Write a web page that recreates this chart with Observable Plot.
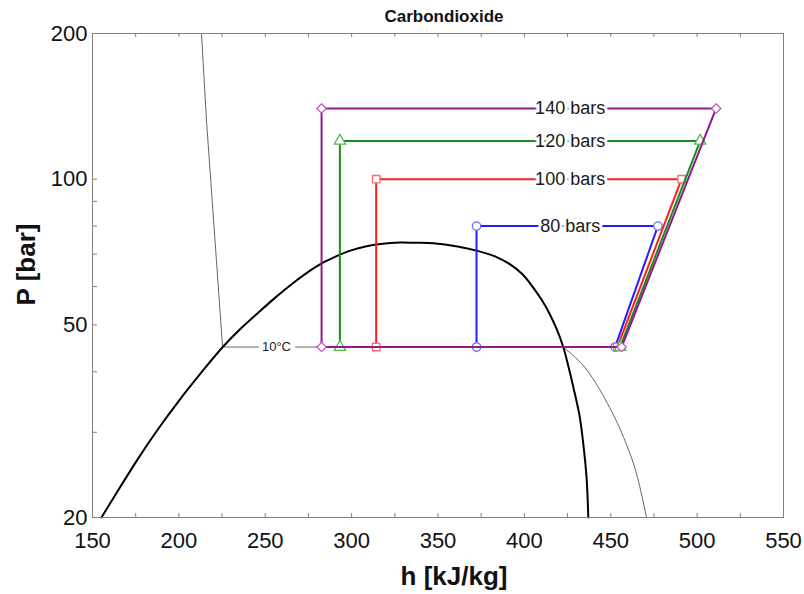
<!DOCTYPE html>
<html><head><meta charset="utf-8">
<script src="https://cdn.jsdelivr.net/npm/d3@7"></script>
<script src="https://cdn.jsdelivr.net/npm/@observablehq/plot@0.6"></script>
<style>body{margin:0;background:#fff} svg{display:block}</style>
</head><body><div id="chart"></div>
<script>
// Saturation dome (h in kJ/kg, P in bar)
const domeH = [155.2, 165.3, 176.5, 188.1, 200.0, 212.6, 225.4, 235.7, 246.7, 256.5, 265.8, 274.5, 282.6, 290.7, 299.3, 308.0, 316.7, 328.3, 337.0, 347.4, 361.3, 372.3, 383.3, 392.0, 398.9, 404.7, 409.9, 414.5, 418.6, 422.6, 425.5, 428.4, 431.9, 434.2, 436.0, 437.0];
const domeP = [20, 22.9, 26.5, 30.5, 34.85, 39.7, 45.0, 49.1, 53.3, 57.2, 60.9, 64.2, 67.0, 69.2, 71.2, 72.6, 73.5, 74.0, 73.9, 73.7, 72.6, 71.2, 69.2, 66.6, 63.6, 60.0, 56.4, 52.8, 49.1, 44.9, 41.0, 37.1, 32.5, 28.2, 24.2, 20];
// 10°C isotherm
const isoLiqH = [213.1, 216.0, 225.3, 422.6];
const isoLiqP = [200, 132, 45, 45];
const isoVapH = [422.6, 436.5, 448.1, 457.4, 465.5, 470.7];
const isoVapP = [44.9, 40.2, 34.4, 29.3, 24.2, 20];
const isoLabel = "10°C";
const isoLabelH = 256.5;
// Cycles
const cycleNames = ["80 bars", "100 bars", "120 bars", "140 bars"];
const pHigh = [80, 100, 120, 140];
const pLow = 45;
const hCompIn = [452.5, 453.8, 455.4, 456.3];
const hCompOut = [477.3, 491.0, 501.8, 511.0];
const hGcOut = [372.3, 314.2, 293.2, 282.6];
const lineColors = ["#1f1fff", "#ff1f1f", "#1a8c1a", "#8e1a8e"];
const markerColors = ["#6a6aff", "#ff6a6a", "#55b855", "#c356c3"];
const symbols = ["circle", "square", "triangle", "diamond2"];
const labelH = 426.5;
// Axes
const xTicks = [150, 200, 250, 300, 350, 400, 450, 500, 550];
const xMinor = [175, 200, 225, 250, 275, 300, 325, 350, 375, 400, 425, 450, 475, 500, 525];
const yTicks = [20, 50, 100, 200];
const yMinor = [30, 40, 50, 60, 70, 80, 90, 100];

const dome = domeH.map((h, i) => ({h, p: domeP[i]}));
const isoLiq = isoLiqH.map((h, i) => ({h, p: isoLiqP[i]}));
const isoVap = isoVapH.map((h, i) => ({h, p: isoVapP[i]}));

const cycleMarks = [];
cycleNames.forEach((name, i) => {
  const pts = [
    {h: hCompIn[i], p: pLow},
    {h: hCompOut[i], p: pHigh[i]},
    {h: hGcOut[i], p: pHigh[i]},
    {h: hGcOut[i], p: pLow},
    {h: hCompIn[i], p: pLow}
  ];
  cycleMarks.push(Plot.line(pts, {x: "h", y: "p", stroke: lineColors[i], strokeWidth: 2}));
  cycleMarks.push(Plot.dot(pts.slice(0, 4), {x: "h", y: "p", symbol: symbols[i], r: 4.2, stroke: markerColors[i], fill: "white", strokeWidth: 1.3}));
});
const labelMarks = cycleNames.map((name, i) =>
  Plot.text([name], {x: () => labelH, y: () => pHigh[i], text: d => d, fontSize: 18, fill: "#1a1a1a", stroke: "white", strokeWidth: 6, paintOrder: "stroke"}));

const fontFamily = "'Liberation Sans', Arial, sans-serif";
const frameGray = "#808080";

const chart = Plot.plot({
  width: 804, height: 594,
  marginLeft: 92, marginRight: 21, marginTop: 33, marginBottom: 77,
  style: {fontFamily, background: "white", color: "#111"},
  x: {domain: [150, 550], label: null},
  y: {type: "log", domain: [20, 200], label: null},
  marks: [
    // inward ticks
    Plot.gridX(xMinor, {stroke: frameGray, strokeOpacity: 1, insetTop: 480}),
    Plot.gridX(xMinor, {stroke: frameGray, strokeOpacity: 1, insetBottom: 480}),
    Plot.gridY(yMinor, {stroke: frameGray, strokeOpacity: 1, insetRight: 686}),
    Plot.axisX(xTicks, {tickSize: 0, tickPadding: 15, fontSize: 22, label: null, tickFormat: d => String(d)}),
    Plot.axisY(yTicks, {tickSize: 0, tickPadding: 5, fontSize: 22, label: null, tickFormat: d => String(d)}),
    // isotherm
    Plot.line(isoLiq, {x: "h", y: "p", stroke: "#666", strokeWidth: 1}),
    Plot.line(isoVap, {x: "h", y: "p", stroke: "#666", strokeWidth: 1, curve: "monotone-x"}),
    Plot.text([isoLabel], {x: () => isoLabelH, y: () => pLow, text: d => d, fontSize: 13, fill: "#222", stroke: "white", strokeWidth: 10, paintOrder: "stroke"}),
    // dome
    Plot.line(dome, {x: "h", y: "p", stroke: "black", strokeWidth: 2, curve: "catmull-rom"}),
    ...cycleMarks,
    ...labelMarks,
    Plot.frame({stroke: frameGray}),
    // titles
    Plot.text(["Carbondioxide"], {frameAnchor: "top", dx: 6, dy: -24, fontSize: 17, fontWeight: "bold", fill: "#111"}),
    Plot.text(["h [kJ/kg]"], {frameAnchor: "bottom", dx: 16, dy: 67, fontSize: 26, fontWeight: "bold", fill: "#111"}),
    Plot.text(["P [bar]"], {frameAnchor: "left", textAnchor: "middle", dx: -66, dy: -11, rotate: -90, fontSize: 26, fontWeight: "bold", fill: "#111"})
  ]
});
document.getElementById("chart").appendChild(chart);
</script>
</body></html>
